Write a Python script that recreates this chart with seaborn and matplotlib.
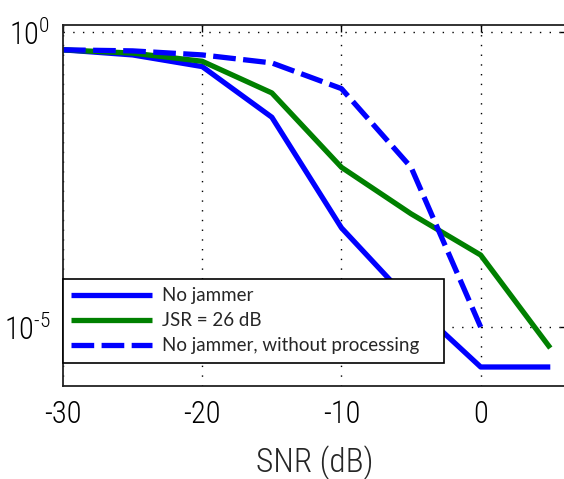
import numpy as np
import pandas as pd
import matplotlib
matplotlib.use("Agg")
import matplotlib.pyplot as plt
from matplotlib import font_manager
import seaborn as sns

# ---- data ----
snr = [-30, -25, -20, -15, -10, -5, 0, 5]
ber_no_jammer = [0.50, 0.41, 0.26, 0.036, 4.8e-4, 2.6e-5, 2.1e-6, 2.1e-6]
ber_jsr26 = [0.50, 0.44, 0.32, 0.093, 5.1e-3, 8.3e-4, 1.66e-4, 4.4e-6]
snr_noproc = [-30, -25, -20, -15, -10, -5, 0]
ber_noproc = [0.50, 0.48, 0.41, 0.30, 0.11, 5.1e-3, 1.0e-5]

labels = ["No jammer", "JSR = 26 dB", "No jammer, without processing"]
colors = ["#0000ff", "#008000", "#0000ff"]
xticks = [-30, -20, -10, 0]
xtick_labels = ["-30", "-20", "-10", "0"]
yticks = [1.0, 1e-5]
ytick_labels = [r"$\mathregular{10^{0}}$", r"$\mathregular{10^{\text{-}5}}$"]

df = pd.concat([
    pd.DataFrame({"snr": snr, "ber": ber_no_jammer, "series": labels[0]}),
    pd.DataFrame({"snr": snr, "ber": ber_jsr26, "series": labels[1]}),
    pd.DataFrame({"snr": snr_noproc, "ber": ber_noproc, "series": labels[2]}),
], ignore_index=True)

# pick a narrow font if one is installed
narrow = None
for fam in ["Liberation Sans Narrow", "Roboto Condensed", "DejaVu Sans Condensed",
            "Open Sans Condensed", "Noto Sans Condensed"]:
    try:
        font_manager.findfont(font_manager.FontProperties(family=fam),
                              fallback_to_default=False)
        narrow = fam
        break
    except Exception:
        pass
is_narrow = narrow is not None
if narrow is None:
    narrow = "Liberation Sans"

sns.set_style("white")
plt.rcParams["font.family"] = [narrow, "Liberation Sans", "DejaVu Sans"]
plt.rcParams["font.weight"] = "light"
plt.rcParams["mathtext.fontset"] = "custom"
plt.rcParams["mathtext.rm"] = narrow + ":light"
plt.rcParams["axes.unicode_minus"] = False

W, H = 564, 479
fig = plt.figure(figsize=(W / 100, H / 100), dpi=100)
left, right, top, bottom = 63, 567, 25, 386
ax = fig.add_axes([left / W, (H - bottom) / H, (right - left) / W, (bottom - top) / H])

lw = 3.8
for lab, col in zip(labels, colors):
    sub = df[df["series"] == lab]
    sns.lineplot(data=sub, x="snr", y="ber", ax=ax, color=col, lw=lw,
                 label=lab, sort=False, estimator=None)
ax.lines[2].set_dashes((4.3, 1.4))
for ln in ax.lines:
    ln.set_solid_capstyle("butt")
    ln.set_dash_capstyle("butt")

ax.set_yscale("log")
ax.set_xlim(-30, 6.2)
ax.set_ylim(1e-6, 10 ** 0.12)
ax.set_xticks(xticks)
ax.set_xticklabels(xtick_labels)
ax.set_yticks(yticks)
ax.set_yticklabels(ytick_labels)
ax.yaxis.set_minor_locator(matplotlib.ticker.NullLocator())

tick_fs = 22 if is_narrow else 19
ax.grid(True, which="major", color="black", linestyle=(0, (1, 6)), linewidth=1.0)
ax.tick_params(direction="in", length=5, width=1.0, top=True, right=True,
               labelsize=tick_fs, colors="black", pad=10)
ax.tick_params(axis="y", pad=9)
for side in ["top", "bottom", "left"]:
    ax.spines[side].set_visible(True)
    ax.spines[side].set_color("#222222")
    ax.spines[side].set_linewidth(1.3)
ax.spines["right"].set_visible(False)

ax.set_xlabel("SNR (dB)", fontsize=24 if is_narrow else 22, labelpad=12,
              fontweight="light")
ax.set_ylabel("")

leg = ax.legend(loc="upper left",
                bbox_to_anchor=(0.0, (bottom - 279) / (bottom - top), (444 - left) / (right - left), 0.0),
                mode="expand", borderaxespad=0, frameon=True, fancybox=False,
                prop={"family": ["Lato", "DejaVu Sans"], "size": 13.5, "weight": "normal"},
                handlelength=4.3, handletextpad=0.55, labelspacing=0.42, borderpad=0.45)
leg.get_frame().set_edgecolor("black")
leg.get_frame().set_linewidth(1.2)
leg.get_frame().set_alpha(1.0)
for h in leg.get_lines():
    h.set_linewidth(lw)

fig.savefig("out.png", dpi=100)
